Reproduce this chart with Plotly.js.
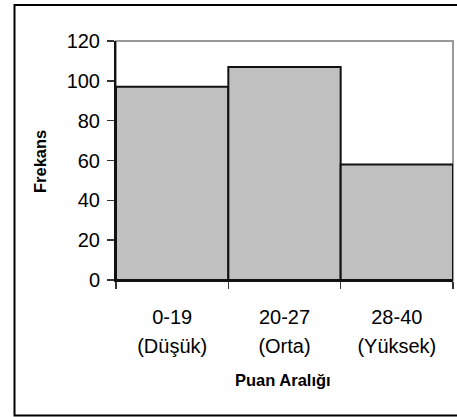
<!DOCTYPE html>
<html>
<head>
<meta charset="utf-8">
<script src="https://cdn.plot.ly/plotly-3.0.1.min.js"></script>
<style>
  html, body { margin: 0; padding: 0; background: #fff; }
  #chart { width: 457px; height: 417px; }
</style>
</head>
<body>
<div id="chart"></div>
<script>
// Score ranges and their frequencies
const rangeLabels = ['0-19', '20-27', '28-40'];
const levelLabels = ['(Düşük)', '(Orta)', '(Yüksek)'];
const frequencies = [97, 107, 58];
const yTicks = [0, 20, 40, 60, 80, 100, 120];

const categories = rangeLabels.map((r, i) => r + '<br>' + levelLabels[i]);
const tickText = rangeLabels.map((r, i) =>
  '<span style="font-size:20px">' + r + '</span><br><span style="font-size:20px">' + levelLabels[i] + '</span>');

const W = 457, H = 417;
const L = 116, R = 4, T = 41, B = 137;
const pw = W - L - R, ph = H - T - B;
// outer frame, expressed in paper units of the plot area
const fx0 = (14.5 - L) / pw, fx1 = (459 - L) / pw;
const fy0 = (H - B - 415.5) / ph, fy1 = (H - B - 5) / ph;

const trace = {
  type: 'bar',
  x: categories,
  y: frequencies,
  marker: { color: '#c0c0c0', line: { color: '#111', width: 2 } },
  hoverinfo: 'x+y'
};

const layout = {
  width: W, height: H,
  margin: { l: L, r: R, t: T, b: B, pad: 0 },
  paper_bgcolor: '#fff', plot_bgcolor: '#fff',
  font: { family: '"Liberation Sans", Arial, sans-serif', color: '#000', size: 18 },
  bargap: 0,
  showlegend: false,
  xaxis: {
    type: 'category',
    tickvals: categories,
    ticktext: tickText,
    tickson: 'boundaries',
    ticks: 'outside', ticklen: 7, tickwidth: 1.5, tickcolor: '#333',
    tickfont: { size: 22 },
    ticklabelstandoff: 16,
    showline: true, linecolor: '#111', linewidth: 2,
    showgrid: false, zeroline: false,
    fixedrange: true
  },
  yaxis: {
    range: [0, 120],
    tickvals: yTicks,
    ticks: 'outside', ticklen: 7, tickwidth: 1.5, tickcolor: '#333',
    tickfont: { size: 20 },
    ticklabelstandoff: 3,
    showline: true, linecolor: '#111', linewidth: 2,
    showgrid: false, zeroline: false,
    fixedrange: true
  },
  shapes: [
    { type: 'rect', xref: 'paper', yref: 'paper', x0: 0, x1: 1, y0: 0, y1: 1,
      line: { color: '#999', width: 2 }, layer: 'below' },
    { type: 'rect', xref: 'paper', yref: 'paper', x0: fx0, x1: fx1, y0: fy0, y1: fy1,
      line: { color: '#000', width: 2 } }
  ],
  annotations: [
    { text: '<b>Frekans</b>', xref: 'paper', yref: 'paper',
      x: (40 - L) / pw, y: (H - B - 162) / ph, textangle: -90, showarrow: false,
      xanchor: 'center', yanchor: 'middle', font: { size: 16.5 } },
    { text: '<b>Puan Aralığı</b>', xref: 'paper', yref: 'paper',
      x: (283 - L) / pw, y: (H - B - 380) / ph, showarrow: false,
      xanchor: 'center', yanchor: 'middle', font: { size: 16.5 } }
  ]
};

Plotly.newPlot('chart', [trace], layout, { displayModeBar: false, staticPlot: true });
</script>
</body>
</html>
